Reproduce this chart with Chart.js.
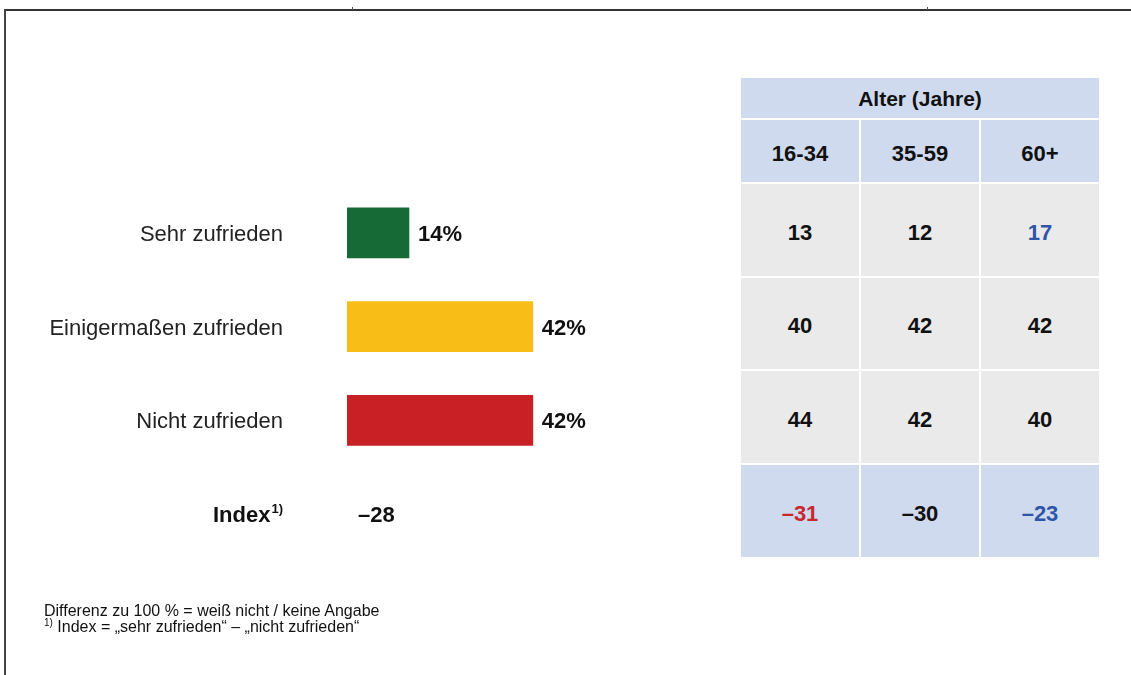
<!DOCTYPE html>
<html>
<head>
<meta charset="utf-8">
<script src="https://cdn.jsdelivr.net/npm/chart.js@4"></script>
<style>
  body { margin: 0; background: #fff; font-family: "Liberation Sans", Arial, sans-serif; }
  #page { position: relative; width: 1131px; height: 675px; overflow: hidden; }
  #frameTop { position: absolute; left: 4px; top: 9px; width: 1127px; height: 2px; background: #333; }
  #frameLeft { position: absolute; left: 4px; top: 9px; width: 2px; height: 666px; background: #444; }
  .tick { position: absolute; top: 7px; width: 1px; height: 3px; background: #555; }
  #ageTable {
    position: absolute; left: 741px; top: 78px; width: 358px;
    display: grid; grid-template-columns: 118px 118px 118px;
    grid-template-rows: 40px 62px 92px 91px 92px 92px; gap: 2px; background: #fff;
  }
  #ageTable div {
    display: flex; align-items: center; justify-content: center;
    font-weight: bold; font-size: 22px; color: #111; padding-top: 5px; box-sizing: border-box;
  }
  #ageTable .head { background: #cfdaee; }
  #ageTable .title { grid-column: 1 / span 3; font-size: 21px; padding-top: 2px; }
  #ageTable .cell { background: #eaeaea; }
  #notes { position: absolute; left: 44px; top: 603px; font-size: 16px; line-height: 16px; color: #111; }
  #notes sup { font-size: 10px; vertical-align: 6px; line-height: 0; }
</style>
</head>
<body>
<div id="page">
  <div id="frameTop"></div>
  <div id="frameLeft"></div>
  <div class="tick" style="left:352px"></div>
  <div class="tick" style="left:927px"></div>
  <canvas id="satChart" width="720" height="675"></canvas>
  <div id="ageTable"></div>
  <div id="notes">Differenz zu 100 % = weiß nicht / keine Angabe<br><sup>1)</sup> Index = „sehr zufrieden“ – „nicht zufrieden“</div>
</div>
<script>
const categories = ["Sehr zufrieden", "Einigermaßen zufrieden", "Nicht zufrieden"];
const shares = [14, 42, 42];
const barColors = ["#156a35", "#f8be17", "#c92026"];
const indexLabel = "Index";
const indexValue = -28;

const ageTitle = "Alter (Jahre)";
const ageGroups = ["16-34", "35-59", "60+"];
const ageSehr = [13, 12, 17];
const ageEinig = [40, 42, 42];
const ageNicht = [44, 42, 40];
const ageIndex = [-31, -30, -23];
// significance marks per cell: "up" = blue, "down" = red
const ageSehrMarks = ["", "", "up"];
const ageIndexMarks = ["down", "", "up"];

function fmt(v) {
  return v < 0 ? "\u2013" + Math.abs(v) : String(v);
}

const labelPlugin = {
  id: "labels",
  afterDatasetsDraw(chart) {
    const c = chart.ctx;
    const x = chart.scales.x;
    const y = chart.scales.y;
    const meta = chart.getDatasetMeta(0);
    c.save();
    c.textBaseline = "middle";
    categories.forEach((name, i) => {
      const yy = y.getPixelForValue(i) + 2;
      c.font = "22px 'Liberation Sans', Arial, sans-serif";
      c.fillStyle = "#222";
      c.textAlign = "right";
      c.fillText(name, 283, yy);
      c.font = "bold 22px 'Liberation Sans', Arial, sans-serif";
      c.fillStyle = "#111";
      c.textAlign = "left";
      c.fillText(shares[i] + "%", meta.data[i].x + 9, yy);
    });
    // index row
    const iy = y.getPixelForValue(categories.length) + 2;
    c.font = "bold 13px 'Liberation Sans', Arial, sans-serif";
    c.textAlign = "right";
    c.fillStyle = "#111";
    c.fillText("1)", 283, iy - 7);
    const supW = c.measureText("1)").width;
    c.font = "bold 22px 'Liberation Sans', Arial, sans-serif";
    c.fillText(indexLabel, 283 - supW - 1, iy);
    c.textAlign = "left";
    c.fillText(fmt(indexValue), x.getPixelForValue(0) + 11, iy);
    c.restore();
  }
};

const ctx = document.getElementById("satChart").getContext("2d");
const satChart = new Chart(ctx, {
  type: "bar",
  data: {
    labels: [...categories, indexLabel],
    datasets: [
      {
        data: [...shares, null],
        backgroundColor: barColors,
        barThickness: 50,
      },
    ],
  },
  options: {
    indexAxis: "y",
    responsive: false,
    animation: false,
    layout: {
      padding: { left: 347, right: 19, top: 186, bottom: 114 },
    },
    scales: {
      x: { display: false, min: 0, max: 80 },
      y: { display: false },
    },
    plugins: {
      legend: { display: false },
      tooltip: { enabled: false },
    },
  },
  plugins: [labelPlugin],
});

// age table
const table = document.getElementById("ageTable");
function addCell(text, cls, color) {
  const d = document.createElement("div");
  d.className = cls;
  d.textContent = text;
  if (color) d.style.color = color;
  table.appendChild(d);
}
function markColor(m) {
  return m === "up" ? "#2e55a8" : m === "down" ? "#c8282d" : null;
}
addCell(ageTitle, "head title");
ageGroups.forEach(g => addCell(g, "head"));
ageSehr.forEach((v, i) => addCell(fmt(v), "cell", markColor(ageSehrMarks[i])));
ageEinig.forEach(v => addCell(fmt(v), "cell"));
ageNicht.forEach(v => addCell(fmt(v), "cell"));
ageIndex.forEach((v, i) => addCell(fmt(v), "head", markColor(ageIndexMarks[i])));
</script>
</body>
</html>
